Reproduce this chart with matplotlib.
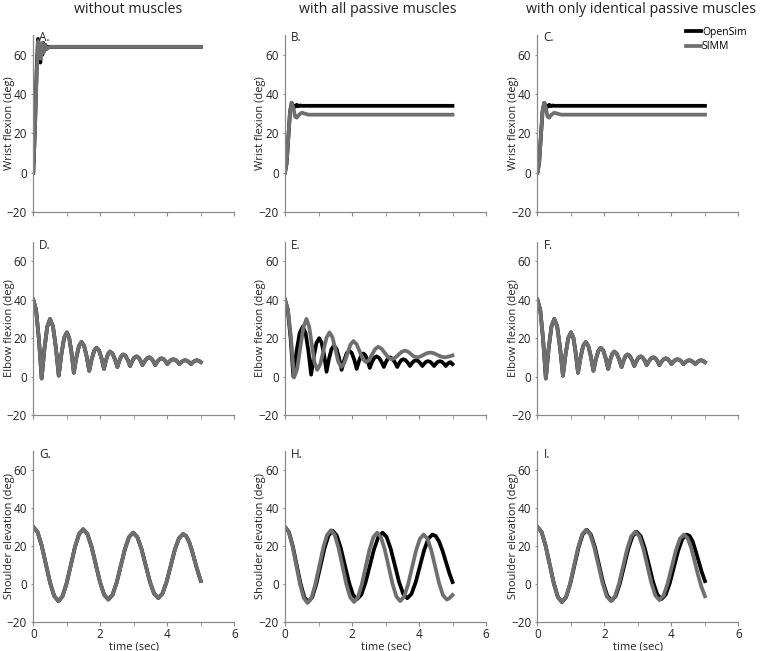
import matplotlib
matplotlib.use("Agg")
import matplotlib.pyplot as plt

plt.rcParams['font.family'] = ['Open Sans', 'DejaVu Sans']

col_titles = ["without muscles", "with all passive muscles", "with only identical passive muscles"]
row_labels = ["Wrist flexion (deg)", "Elbow flexion (deg)", "Shoulder elevation (deg)"]
panel_tags = ["A.", "B.", "C.", "D.", "E.", "F.", "G.", "H.", "I."]
series_names = ["OpenSim", "SIMM"]

# wrist, no muscles (A)
wristA_osim_t = [0, 0.05, 0.1, 0.14, 0.18, 0.21, 0.24, 0.27, 0.3, 0.33, 0.36, 0.4, 0.45, 5.0]
wristA_osim_v = [0, 23, 52, 68, 61, 56, 65, 60, 66, 62, 65, 63, 64, 64]
wristA_simm_t = [0, 0.05, 0.1, 0.15, 0.19, 0.23, 0.27, 0.31, 0.35, 0.4, 0.5, 5.0]
wristA_simm_v = [0, 22, 50, 67, 59, 58, 66, 61, 65, 63, 64, 64]

# wrist, passive muscles (B, C)
wristB_osim_t = [0, 0.05, 0.1, 0.15, 0.2, 0.25, 0.3, 0.35, 0.4, 0.45, 0.5, 5.0]
wristB_osim_v = [0, 5, 18, 31, 35.5, 34, 33.5, 34.5, 33.8, 34.2, 34, 34]
wristB_simm_t = [0, 0.05, 0.1, 0.15, 0.2, 0.25, 0.3, 0.35, 0.42, 0.5, 0.6, 0.7, 5.0]
wristB_simm_v = [0, 5, 18, 31, 35.5, 33, 28.5, 28, 29.5, 30.5, 30, 29.5, 29.5]

# elbow, identical models (D, F)
elbowD_t = [0, 0.083, 0.167, 0.25, 0.333, 0.417, 0.5, 0.587, 0.673, 0.76, 0.84, 0.92,
            1.0, 1.07, 1.14, 1.21, 1.287, 1.363, 1.44, 1.517, 1.593, 1.67, 1.743, 1.817,
            1.89, 1.963, 2.037, 2.11, 2.17, 2.23, 2.29, 2.363, 2.437, 2.51, 2.57, 2.63,
            2.69, 2.757, 2.823, 2.89, 2.953, 3.017, 3.08, 3.14, 3.2, 3.26, 3.327, 3.393,
            3.46, 3.52, 3.58, 3.64, 3.703, 3.767, 3.83, 3.887, 3.943, 4.0, 4.06, 4.12,
            4.18, 4.24, 4.3, 4.36, 4.417, 4.473, 4.53, 4.59, 4.65, 4.71, 4.767, 4.823,
            4.88, 4.94, 5.0]
elbowD_v = [40, 34.7, 19.5, -1, 14.5, 26, 30, 26.2, 15.2, 0.5, 11.7, 20.1,
            23, 20.3, 12.5, 2, 10, 15.9, 18, 16, 10.5, 3, 9, 13.4,
            15, 13.6, 9.5, 4, 8.5, 11.8, 13, 12, 9, 5, 8.3, 10.7,
            11.5, 10.7, 8.5, 5.5, 8, 9.9, 10.5, 9.9, 8.3, 6, 8, 9.5,
            10, 9.5, 8, 6, 7.8, 9, 9.5, 9.1, 8, 6.5, 7.8, 8.7,
            9, 8.7, 7.8, 6.5, 7.5, 8.2, 8.5, 8.2, 7.5, 6.5, 7.5, 8.2,
            8.5, 8.2, 7.5]

# elbow, all passive muscles (E)
elbowE_osim_t = [0, 0.083, 0.167, 0.25, 0.343, 0.437, 0.53, 0.613, 0.697, 0.78, 0.86, 0.94,
                 1.02, 1.093, 1.167, 1.24, 1.313, 1.387, 1.46, 1.537, 1.613, 1.69, 1.767, 1.843,
                 1.92, 1.993, 2.067, 2.14, 2.207, 2.273, 2.34, 2.403, 2.467, 2.53, 2.597, 2.663,
                 2.73, 2.803, 2.877, 2.95, 3.01, 3.07, 3.13, 3.203, 3.277, 3.35, 3.41, 3.47,
                 3.53, 3.597, 3.663, 3.73, 3.79, 3.85, 3.91, 3.973, 4.037, 4.1, 4.157, 4.213,
                 4.27, 4.33, 4.39, 4.45, 4.507, 4.563, 4.62, 4.68, 4.74, 4.8, 4.847, 4.893,
                 4.94, 5.0]
elbowE_osim_v = [40, 34.8, 20, 0, 13, 22.6, 26, 22.75, 13.5, 1, 10.5, 17.5,
                 20, 17.7, 11.25, 2.5, 9.25, 14.25, 16, 14.4, 9.75, 3.5, 8.5, 12.2,
                 13.5, 12.3, 8.75, 4, 8, 11, 12, 11, 8.25, 4.5, 7.5, 9.7,
                 10.5, 9.8, 7.75, 5, 7.5, 9.35, 10, 9.35, 7.5, 5, 7, 8.5,
                 9, 8.5, 7.25, 5.5, 7, 8.1, 8.5, 8.1, 7, 5.5, 6.75, 7.7,
                 8, 7.7, 6.75, 5.5, 6.75, 7.7, 8, 7.7, 6.75, 5.5, 6.5, 7.2,
                 7.5, 6.5]
elbowE_simm_t = [0, 0.09, 0.18, 0.27, 0.3625, 0.455, 0.5475, 0.64, 0.72, 0.8, 0.88,
                 0.96, 1.0525, 1.145, 1.2375, 1.33, 1.4175, 1.505, 1.5925, 1.68, 1.77, 1.86, 1.95,
                 2.04, 2.135, 2.23, 2.325, 2.42, 2.51, 2.6, 2.69, 2.78, 2.88, 2.98, 3.08,
                 3.18, 3.28, 3.38, 3.48, 3.58, 3.6675, 3.755, 3.8425, 3.93, 4.03, 4.13, 4.23,
                 4.33, 4.44, 4.55, 4.66, 4.77, 4.885, 5.0]
elbowE_simm_v = [40, 34.7, 19.75, -0.5, 3.95, 14.75, 25.55, 30, 26.1, 16.75, 7.4,
                 3.5, 6.35, 13.25, 20.15, 23, 20.4, 14, 7.6, 5, 7, 11.75, 16.5,
                 18.5, 16.9, 13, 9.1, 7.5, 8.7, 11.5, 14.3, 15.5, 14.55, 12.25, 9.95,
                 9, 9.65, 11.25, 12.85, 13.5, 13, 11.75, 10.5, 10, 10.35, 11.25, 12.15,
                 12.5, 12.15, 11.25, 10.35, 10, 10.4, 11]

# shoulder, no muscles (G)
shoulderG_t = [0, 0.125, 0.25, 0.375, 0.5, 0.625, 0.75, 0.873, 0.997, 1.12, 1.243, 1.367,
               1.49, 1.615, 1.74, 1.865, 1.99, 2.115, 2.24, 2.363, 2.487, 2.61, 2.733, 2.857,
               2.98, 3.105, 3.23, 3.355, 3.48, 3.605, 3.73, 3.853, 3.977, 4.1, 4.223, 4.347,
               4.47, 4.56, 4.65, 4.74, 4.83, 4.92, 5.0]
shoulderG_v = [30, 27.4, 20.25, 10.5, 0.75, -6.4, -9, -6.5, 0.45, 9.9, 19.35, 26.3,
               28.8, 26.3, 19.55, 10.3, 1.05, -5.7, -8.2, -5.85, 0.6, 9.4, 18.2, 24.65,
               27, 24.7, 18.4, 9.8, 1.2, -5.1, -7.4, -5.15, 1.0, 9.45, 17.9, 24.0,
               26.3, 25.3, 22.2, 17.3, 11.5, 6, 1.6]

# shoulder, all passive muscles (H)
shoulderH_osim_t = [0, 0.115, 0.23, 0.345, 0.46, 0.575, 0.69, 0.812, 0.933, 1.055, 1.177, 1.298,
                    1.42, 1.542, 1.663, 1.785, 1.907, 2.028, 2.15, 2.277, 2.403, 2.53, 2.657, 2.783,
                    2.91, 3.033, 3.157, 3.28, 3.403, 3.527, 3.65, 3.775, 3.9, 4.025, 4.15, 4.275,
                    4.4, 4.5, 4.6, 4.7, 4.8, 4.9, 5.0]
shoulderH_osim_v = [30, 27.35, 20.1, 10.25, 0.4, -6.85, -9.5, -7, -0.1, 9.25, 18.6, 25.5,
                    28, 25.6, 19, 10, 1, -5.6, -8, -5.65, 0.75, 9.5, 18.25, 24.65,
                    27, 24.7, 18.4, 9.75, 1.1, -5.2, -7.5, -5.25, 0.9, 9.25, 17.6, 23.75,
                    26, 25.2, 22.3, 17.6, 11.8, 6, 1]
shoulderH_simm_t = [0, 0.112, 0.223, 0.335, 0.447, 0.558, 0.67, 0.787, 0.903, 1.02, 1.137, 1.253,
                    1.37, 1.485, 1.6, 1.715, 1.83, 1.945, 2.06, 2.175, 2.29, 2.405, 2.52, 2.635,
                    2.75, 2.865, 2.98, 3.095, 3.21, 3.325, 3.44, 3.557, 3.673, 3.79, 3.907, 4.023,
                    4.14, 4.255, 4.37, 4.485, 4.6, 4.715, 4.83, 4.9, 5.0]
shoulderH_simm_v = [30, 27.3, 20, 10, 0, -7.3, -10, -7.45, -0.4, 9.15, 18.7, 25.7,
                    28.3, 25.8, 18.85, 9.4, -0.05, -7, -9.5, -7.05, -0.4, 8.75, 17.9, 24.55,
                    27, 24.6, 18, 9, 0, -6.6, -9, -6.65, -0.25, 8.5, 17.25, 23.65,
                    26, 23.7, 17.45, 8.9, 0.35, -5.9, -8.2, -7.6, -5.8]

# shoulder, identical passive muscles (I)
shoulderI_osim_t = [0, 0.122, 0.243, 0.365, 0.487, 0.608, 0.73, 0.853, 0.977, 1.1, 1.223, 1.347,
                    1.47, 1.593, 1.717, 1.84, 1.963, 2.087, 2.21, 2.335, 2.46, 2.585, 2.71, 2.835,
                    2.96, 3.083, 3.207, 3.33, 3.453, 3.577, 3.7, 3.825, 3.95, 4.075, 4.2, 4.325,
                    4.45, 4.54, 4.63, 4.72, 4.81, 4.9, 5.0]
shoulderI_osim_v = [30, 27.35, 20.1, 10.25, 0.4, -6.85, -9.5, -6.95, 0, 9.5, 19, 25.95,
                    28.5, 26, 19.2, 9.85, 0.5, -6.3, -8.8, -6.35, 0.3, 9.35, 18.4, 25.05,
                    27.5, 25.1, 18.6, 9.75, 0.9, -5.6, -8, -5.7, 0.5, 9, 17.5, 23.7,
                    26, 25.3, 22.5, 17.5, 12, 6.5, 1.5]
shoulderI_simm_t = [0, 0.122, 0.243, 0.365, 0.487, 0.608, 0.73, 0.85, 0.97, 1.09, 1.21, 1.33,
                    1.45, 1.573, 1.697, 1.82, 1.943, 2.067, 2.19, 2.312, 2.433, 2.555, 2.677, 2.798,
                    2.92, 3.04, 3.16, 3.28, 3.4, 3.52, 3.64, 3.762, 3.883, 4.005, 4.127, 4.248,
                    4.37, 4.475, 4.58, 4.685, 4.79, 4.895, 5.0]
shoulderI_simm_v = [30, 27.35, 20.1, 10.25, 0.4, -6.85, -9.5, -6.95, 0, 9.5, 19, 25.95,
                    28.5, 26, 19.1, 9.75, 0.4, -6.5, -9, -6.55, 0.1, 9.25, 18.4, 25.05,
                    27.5, 25.1, 18.5, 9.5, 0.5, -6.1, -8.5, -6.2, 0.1, 8.75, 17.4, 23.7,
                    26, 24.3, 19.5, 12.4, 4.9, -1.6, -6.5]

panels = [
    [(wristA_osim_t, wristA_osim_v, wristA_simm_t, wristA_simm_v),
     (wristB_osim_t, wristB_osim_v, wristB_simm_t, wristB_simm_v),
     (wristB_osim_t, wristB_osim_v, wristB_simm_t, wristB_simm_v)],
    [(elbowD_t, elbowD_v, elbowD_t, elbowD_v),
     (elbowE_osim_t, elbowE_osim_v, elbowE_simm_t, elbowE_simm_v),
     (elbowD_t, elbowD_v, elbowD_t, elbowD_v)],
    [(shoulderG_t, shoulderG_v, shoulderG_t, shoulderG_v),
     (shoulderH_osim_t, shoulderH_osim_v, shoulderH_simm_t, shoulderH_simm_v),
     (shoulderI_osim_t, shoulderI_osim_v, shoulderI_simm_t, shoulderI_simm_v)],
]

SIMM_GREY = "#6f6f6f"
AXIS_GREY = "#8a8a8a"
TXT = "#222222"

col_left = [0.0438, 0.375, 0.7072]
col_w = 0.2645
row_box = [(0.6743, 0.2719), (0.3625, 0.2657), (0.0446, 0.2627)]
title_x = [0.168, 0.497, 0.843]

fig = plt.figure(figsize=(7.6, 6.51), dpi=100)
for r in range(3):
    for c in range(3):
        ax = fig.add_axes([col_left[c], row_box[r][0], col_w, row_box[r][1]])
        ot, ov, st, sv = panels[r][c]
        ax.plot(ot, ov, color="black", lw=2.7, solid_joinstyle="round", label=series_names[0])
        ax.plot(st, sv, color=SIMM_GREY, lw=2.7, solid_joinstyle="round", label=series_names[1])
        ax.set_xlim(0, 6); ax.set_ylim(-20, 70)
        ax.set_yticks([-20, 0, 20, 40, 60])
        ax.set_xticks([0, 2, 4, 6]); ax.set_xticks([1, 3, 5], minor=True)
        for s in ("top", "right"):
            ax.spines[s].set_visible(False)
        for s in ("left", "bottom"):
            ax.spines[s].set_color(AXIS_GREY); ax.spines[s].set_linewidth(0.9)
        ax.tick_params(axis="x", which="both", direction="out", length=3, color=AXIS_GREY,
                       labelsize=8.5, labelcolor=TXT, pad=1.5)
        ax.tick_params(axis="y", direction="out", length=1.5, color=AXIS_GREY,
                       labelsize=8.5, labelcolor=TXT, pad=3)
        if r < 2:
            ax.tick_params(axis="x", labelbottom=False)
        else:
            ax.set_xlabel("time (sec)", fontsize=8, color=TXT, labelpad=0)
        ax.set_ylabel(row_labels[r], fontsize=8, color=TXT)
        ax.yaxis.set_label_coords(-0.093, 0.5)
        ax.text(0.03, 1.02, panel_tags[3 * r + c], transform=ax.transAxes, va="top",
                ha="left", fontsize=8.5, color=TXT)
        if r == 0 and c == 2:
            ax.legend(loc="upper right", bbox_to_anchor=(1.04, 1.045), frameon=False,
                      fontsize=7.5, handlelength=1.4, handletextpad=0.1, labelspacing=0.3,
                      borderpad=0, borderaxespad=0)

for c in range(3):
    fig.text(title_x[c], 0.985, col_titles[c], ha="center", va="center", fontsize=10.3, color=TXT)

fig.savefig("out.png", dpi=100, facecolor="white")
